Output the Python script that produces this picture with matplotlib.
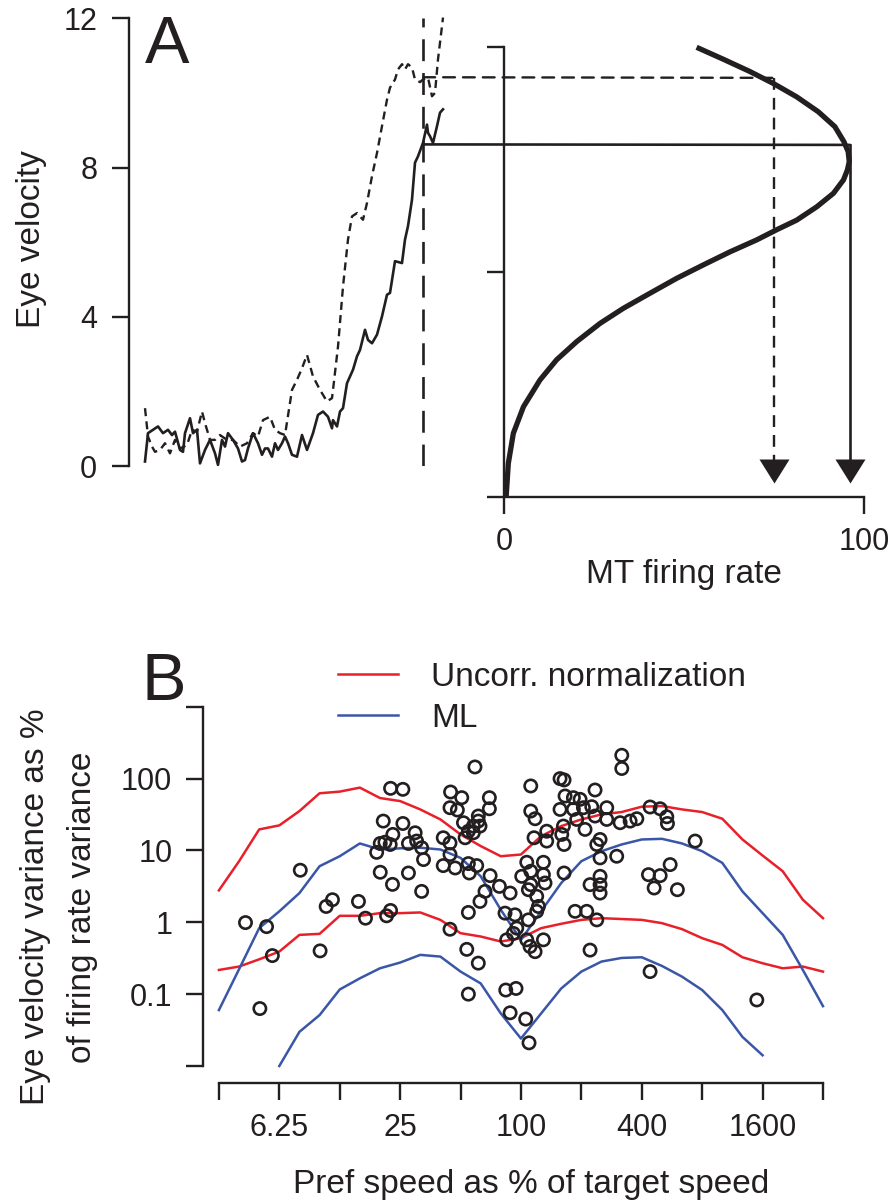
import numpy as np
import matplotlib
matplotlib.use('Agg')
import matplotlib.pyplot as plt
from matplotlib.patches import ConnectionPatch
from matplotlib.ticker import FixedLocator, NullLocator

plt.rcParams['font.family'] = ['Liberation Sans', 'DejaVu Sans']

INK = '#231f20'
RED = '#e8202a'
BLUE = '#3a56a6'

# ---------------- Panel A data ----------------
t_solid = [0, 3, 8, 13, 18, 23, 27, 30, 35, 38, 40, 45, 48, 52, 55, 60, 65, 70, 73, 77,
           80, 83, 88, 93, 97, 100, 103, 108, 113, 117, 120, 123, 127, 130, 133, 137, 140, 143, 147, 152,
           157, 162, 168, 173, 178, 183, 187, 188, 192, 195, 198, 202, 208, 212, 215, 220, 223, 227, 232, 237,
           242, 245, 250, 257, 260, 263, 267, 270, 273, 278, 282, 283, 285, 288, 292, 295, 298]
v_solid = [0.12, 0.88, 0.97, 1.06, 0.88, 0.97, 0.83, 0.92, 0.43, 0.38,
           0.88, 1.28, 0.88, 0.97, 0.07, 0.43, 0.70, 0.34, 0.03, 0.70,
           0.52, 0.88, 0.70, 0.47, 0.12, 0.16, 0.47, 0.88, 0.61, 0.30,
           0.47, 0.47, 0.25, 0.61, 0.43, 0.61, 0.79, 0.61, 0.30, 0.25,
           0.83, 0.43, 0.88, 1.37, 1.46, 1.32, 1.01, 1.23, 1.06, 1.46,
           1.55, 2.22, 2.58, 2.94, 3.11, 3.65, 3.38, 3.29, 3.52, 4.01,
           4.59, 4.64, 5.49, 5.44, 6.07, 6.43, 7.14, 8.13, 8.30, 8.66,
           9.15, 8.93, 8.84, 8.66, 9.11, 9.47, 9.56]
t_dashed = [0, 3, 7, 10, 15, 20, 25, 30, 35, 42, 47, 52, 57, 60, 65, 70, 75, 82, 88, 95,
            102, 108, 113, 118, 125, 130, 135, 140, 147, 152, 157, 162, 168, 175, 182, 187, 188, 193, 198, 203,
            207, 212, 218, 222, 227, 232, 237, 242, 245, 250, 253, 257, 260, 263, 267, 270, 275, 278, 283, 287,
            290, 293, 297, 298]
v_dashed = [1.55, 0.79, 0.52, 0.38, 0.43, 0.61, 0.34, 0.70, 0.47, 0.56,
            0.97, 0.92, 1.46, 1.15, 0.70, 0.70, 0.83, 0.70, 0.70, 0.52,
            0.61, 0.88, 0.79, 1.23, 1.32, 0.97, 0.88, 0.83, 2.04, 2.31,
            2.62, 2.98, 2.40, 2.04, 1.73, 1.82, 2.04, 3.20, 4.81, 6.07,
            6.69, 6.78, 6.60, 7.05, 7.77, 8.39, 9.11, 9.82, 10.14, 10.36,
            10.63, 10.77, 10.63, 10.77, 10.68, 10.36, 10.29, 10.36, 10.41, 9.91,
            10.00, 10.90, 11.79, 12.02]
t_readout = 278.3
v_readout_solid = 8.62
v_readout_dashed = 10.42

fr_curve = [0.6, 1.2, 2.6, 5.4, 10.0, 14.6, 20.2, 26.7, 33.1, 40.6, 48.0, 55.4, 62.8, 70.2, 75.7,
            81.3, 86.9, 91.5, 94.3, 95.4, 95.9, 95.6, 94.4, 91.9, 87.3, 81.3, 74.8, 68.3, 60.9, 53.5]
v_curve = [-0.82, 0.07, 0.88, 1.59, 2.31, 2.85, 3.34, 3.83, 4.23, 4.64, 5.04, 5.40, 5.75, 6.07, 6.34,
           6.60, 6.96, 7.32, 7.68, 7.95, 8.17, 8.44, 8.71, 9.11, 9.51, 9.91, 10.27, 10.59, 10.92, 11.24]
fr_solid_read = 96.1
fr_dashed_read = 75.0
arrow_v = -0.134
mt_ylim = (-0.824, 11.24)
mt_yticks = [-0.824, 5.21, 11.24]

# ---------------- Panel B data ----------------
pref_speed = np.geomspace(3.125, 3200, 31)
uncorr_upper = [2.78, 7.06, 19.6, 22.3, 35.3, 62.4, 65.8, 74.8, 53.6, 48.6, 37.2, 27.0, 16.7, 11.5, 8.30,
                8.77, 15.8, 21.8, 27.0, 31.7, 34.2, 40.6, 41.5, 37.2, 34.2, 27.6, 14.2, 8.49, 5.13, 2.06, 1.14]
uncorr_lower = [0.217, 0.242, 0.305, 0.391, 0.668, 0.690, 1.23, 1.23, 1.34, 1.34, 1.37, 1.08, 0.705, 0.634, 0.540,
                0.601, 0.828, 0.953, 1.08, 1.14, 1.11, 1.08, 0.973, 0.802, 0.601, 0.484, 0.326, 0.269, 0.229, 0.242, 0.206]
ml_upper = [0.060, 0.222, 0.828, 1.42, 2.55, 6.03, 8.30, 12.5, 10.3, 10.7, 10.9, 10.3, 7.87, 4.37, 1.49,
            0.569, 1.42, 3.52, 7.08, 9.75, 12.1, 14.2, 14.5, 12.5, 9.75, 6.70, 2.69, 1.34, 0.668, 0.217, 0.068]
ml_lower = [np.nan, np.nan, np.nan, 0.0100, 0.0299, 0.0511, 0.116, 0.166, 0.229, 0.275, 0.352, 0.333, 0.206, 0.141, 0.0538,
            0.0241, 0.0538, 0.120, 0.206, 0.284, 0.319, 0.326, 0.247, 0.175, 0.114, 0.060, 0.0254, 0.0141, np.nan, np.nan, np.nan]

cell_x = [22.4, 25.8, 20.6, 25.8, 23.0, 21.0, 19.9, 22.3, 19.1, 27.5, 7.95, 19.9, 27.5, 22.9, 11.5, 10.7, 15.5, 16.8, 21.4, 22.4,
          4.24, 5.40, 5.77, 9.98, 5.0,
          59.0, 111.9, 156.6, 164, 234, 44.6, 50.7, 69.6, 44.3, 48.2, 69.6, 61.3, 61.3, 51.7, 57.9, 62.5, 54.7, 52.7, 57.9, 29.7,
          30.2, 41.0, 44.3, 32.0, 32.7, 44.3, 41.0, 47.0, 54.7, 60.2, 55.3, 70.2, 78.1, 88.3, 66.2, 62.5, 32.0, 111.9, 117.6, 116.2,
          134.4, 134.4, 159.7, 162.8, 164, 164, 106.9, 129.4, 111.9, 100.9, 111.9, 119.8, 129.4, 131.8, 108.9, 165.9, 182.5, 197.1, 156.6, 182.5,
          204.8, 225.3, 267.6, 189.6, 208.6, 234, 267.6, 247.9, 238.7, 247.9, 247.9, 221, 247.9, 247.9, 186.1, 212.7, 238.7, 122.2, 119.8, 83.3,
          93.4, 108.9, 95.3, 91.7, 84.9, 106.9, 129.4, 111, 117.6, 54.7, 44.3, 53.7, 61.3, 221, 54.7, 84.0, 94.5, 88.3, 105.6, 109.7,
          318, 318, 312, 350, 378, 440, 494, 533, 537, 300, 738, 554, 432, 494, 461, 602, 440, 1497]
cell_y = [73.1, 70.8, 25.6, 23.7, 16.7, 13.0, 12.5, 12.1, 9.4, 12.5, 5.3, 4.97, 4.85, 3.37, 2.06, 1.66, 1.95, 1.14, 1.23, 1.46,
          0.99, 0.87, 0.344, 0.40, 0.063,
          145, 78.9, 99.8, 95.7, 69.3, 65.0, 54.2, 54.2, 39.3, 36.5, 38.0, 30.1, 25.6, 24.3, 21.8, 21.8, 18.5, 15.0, 17.6, 17.6,
          13.5, 15.0, 12.7, 10.9, 7.46, 8.77, 6.15, 5.70, 6.56, 6.15, 4.85, 4.46, 3.16, 2.55, 2.69, 1.95, 2.69, 35.3, 27.6, 15.0,
          18.5, 13.5, 16.7, 21.8, 12.1, 4.85, 6.84, 6.84, 5.13, 4.36, 3.34, 2.30, 4.60, 3.52, 2.84, 57.2, 54.2, 51.4, 37.2, 37.2,
          39.3, 40.6, 39.3, 27.0, 19.6, 30.1, 27.0, 14.2, 12.1, 7.87, 4.36, 3.34, 3.34, 2.55, 1.42, 1.42, 1.08, 1.66, 1.42, 1.34,
          1.27, 1.08, 0.83, 0.70, 0.57, 0.57, 0.57, 0.46, 0.39, 1.37, 0.80, 0.42, 0.27, 0.41, 0.10, 0.114, 0.120, 0.055, 0.045, 0.021,
          211, 138, 24.3, 25.6, 27.6, 40.2, 38.0, 29.4, 23.7, 8.30, 13.5, 6.35, 4.60, 4.46, 3.00, 2.84, 0.206, 0.083]

x_ticks = [3.125, 6.25, 12.5, 25, 50, 100, 200, 400, 800, 1600, 3200]
x_ticklabels = ['', '6.25', '', '25', '', '100', '', '400', '', '1600', '']
y_ticks = [0.01, 0.1, 1, 10, 100, 1000]
y_ticklabels = ['', '0.1', '1', '10', '100', '']

W, H = 895, 1200
fig = plt.figure(figsize=(W / 100, H / 100), dpi=100)

def fx(px):
    return px / W

def fy(py):
    return 1 - py / H

# ---------- Panel A, eye velocity traces ----------
axL = fig.add_axes([fx(129.3), fy(466), fx(445) - fx(129.3), fy(18.3) - fy(466)])
axL.plot(t_solid, v_solid, color=INK, lw=1.9, clip_on=False)
axL.plot(t_dashed, v_dashed, color=INK, lw=1.7, dashes=(3.4, 2.2), clip_on=False)
axL.axvline(t_readout, color=INK, lw=1.9, dashes=(8.3, 4.5))
axL.set_xlim(-15.7, 300)
axL.set_ylim(0, 12)
for s in ['top', 'right', 'bottom']:
    axL.spines[s].set_visible(False)
axL.spines['left'].set_linewidth(1.7)
axL.spines['left'].set_color(INK)
axL.set_xticks([])
axL.set_yticks([0, 4, 8, 12])
axL.tick_params(axis='y', direction='out', length=12, width=1.7, pad=11, labelsize=22, colors=INK)
axL.patch.set_alpha(0)

# ---------- Panel A, MT tuning curve ----------
axR = fig.add_axes([fx(504), fy(496.7), fx(864) - fx(504), fy(47.3) - fy(496.7)])
axR.patch.set_alpha(0)
axR.plot(fr_curve, v_curve, color=INK, lw=3.8, solid_capstyle='butt', clip_on=False)
axR.set_xlim(0, 100)
axR.set_ylim(*mt_ylim)
for s in ['top', 'right']:
    axR.spines[s].set_visible(False)
for s in ['left', 'bottom']:
    axR.spines[s].set_linewidth(1.7)
    axR.spines[s].set_color(INK)
axR.set_xticks([0, 100])
axR.set_xticklabels(['0', '100'])
axR.set_yticks(mt_yticks)
axR.set_yticklabels([])
axR.tick_params(direction='out', length=12, width=1.7, labelsize=22, pad=10, colors=INK)
axR.set_xlabel('MT firing rate', fontsize=24, labelpad=1, color=INK)

# readout lines
con1 = ConnectionPatch(xyA=(t_readout, v_readout_solid), coordsA=axL.transData,
                       xyB=(fr_solid_read, v_readout_solid), coordsB=axR.transData,
                       color=INK, lw=1.9)
fig.add_artist(con1)
con2 = ConnectionPatch(xyA=(t_readout, v_readout_dashed), coordsA=axL.transData,
                       xyB=(fr_dashed_read, v_readout_dashed), coordsB=axR.transData,
                       color=INK, lw=1.7, linestyle=(0, (5.0, 3.4)))
fig.add_artist(con2)
axR.plot([fr_solid_read, fr_solid_read], [v_readout_solid, arrow_v], color=INK, lw=1.9, clip_on=False)
axR.plot([fr_dashed_read, fr_dashed_read], [v_readout_dashed, arrow_v], color=INK, lw=1.7,
         dashes=(5.0, 3.4), clip_on=False)
head = [(-1.25, 1.0), (1.25, 1.0), (0.0, -1.0)]
axR.plot([fr_solid_read, fr_dashed_read], [arrow_v, arrow_v], linestyle='none', marker=head,
         markersize=21.6, markerfacecolor=INK, markeredgewidth=0, clip_on=False, zorder=5)

fig.text(fx(32), fy(239), 'Eye velocity', rotation=90, ha='center', va='center', fontsize=24, color=INK)
fig.text(fx(145), fy(63), 'A', fontsize=48, ha='left', va='baseline', color=INK)

# ---------- Panel B ----------
axB = fig.add_axes([fx(218.9), fy(1066), fx(823) - fx(218.9), fy(706.7) - fy(1066)])
axB.set_xscale('log')
axB.set_yscale('log')
axB.plot(pref_speed, uncorr_upper, color=RED, lw=1.8, label='Uncorr. normalization', clip_on=False)
axB.plot(pref_speed, uncorr_lower, color=RED, lw=1.8, clip_on=False)
axB.plot(pref_speed, ml_upper, color=BLUE, lw=1.8, label='ML', clip_on=False)
axB.plot(pref_speed, ml_lower, color=BLUE, lw=1.8, clip_on=False)
axB.scatter(cell_x, cell_y, s=78, facecolors='none', edgecolors=INK, linewidths=1.9, zorder=4, clip_on=False)
axB.set_xlim(3.125, 3200)
axB.set_ylim(0.01, 1000)
for s in ['top', 'right']:
    axB.spines[s].set_visible(False)
axB.spines['left'].set_position(('outward', 11.5))
axB.spines['bottom'].set_position(('outward', 12))
for s in ['left', 'bottom']:
    axB.spines[s].set_linewidth(1.7)
    axB.spines[s].set_color(INK)
axB.xaxis.set_major_locator(FixedLocator(x_ticks))
axB.xaxis.set_minor_locator(NullLocator())
axB.set_xticklabels(x_ticklabels)
axB.yaxis.set_major_locator(FixedLocator(y_ticks))
axB.yaxis.set_minor_locator(NullLocator())
axB.set_yticklabels(y_ticklabels)
axB.tick_params(direction='out', length=12, width=1.7, labelsize=22, pad=10, colors=INK)
axB.patch.set_alpha(0)

leg = axB.legend(loc='upper left', bbox_to_anchor=(fx(338), fy(662)), bbox_transform=fig.transFigure,
                 frameon=False, fontsize=24, handlelength=1.8, handletextpad=1.0, labelspacing=0.3,
                 borderpad=0, borderaxespad=0)
for tx in leg.get_texts():
    tx.set_color(INK)

fig.text(fx(59), fy(907), 'Eye velocity variance as %\nof firing rate variance', rotation=90,
         ha='center', va='center', multialignment='center', linespacing=1.65, fontsize=24, color=INK)
fig.text(fx(531), fy(1193), 'Pref speed as % of target speed', ha='center', va='baseline', fontsize=24, color=INK)
fig.text(fx(142), fy(700), 'B', fontsize=48, ha='left', va='baseline', color=INK)

fig.savefig('out.png', dpi=100)
